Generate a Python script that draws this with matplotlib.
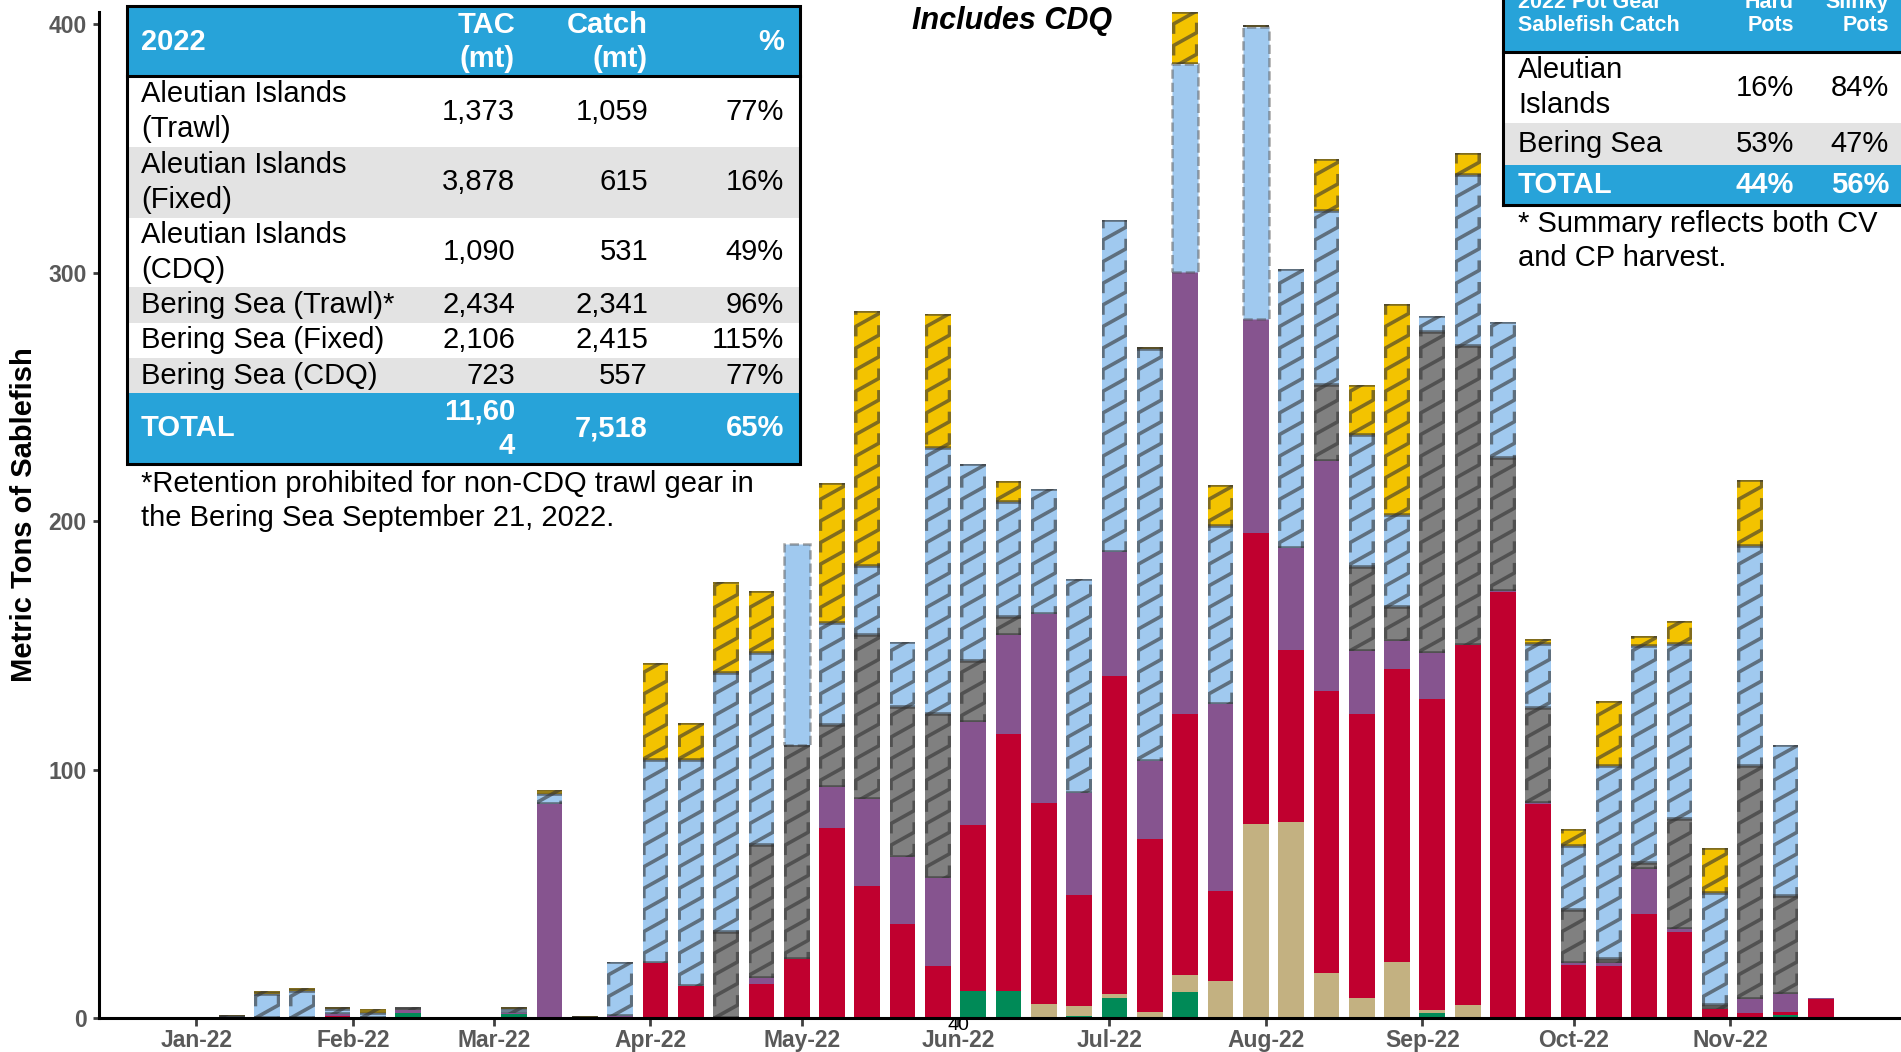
import matplotlib
matplotlib.use('Agg')
import matplotlib.pyplot as plt
import matplotlib.dates as mdates
from matplotlib.collections import LineCollection
from matplotlib.patches import Rectangle
import numpy as np
import pandas as pd

plt.rcParams['font.family'] = 'Liberation Sans'

W, H = 1901, 1052

weeks = pd.date_range('2022-01-01', periods=47, freq='7D')
months = pd.date_range('2022-01-01', '2022-11-01', freq='MS')

# weekly sablefish catch (mt), one list per stacked component, bottom to top
#          Jan 1 ......................................... Mar 26
green = [0, 0, 0, 0, 0, 0, 2.0, 0, 0, 1.6, 0, 0, 0,
         #  Apr 2 ........................................ Jun 25
         0, 0, 0, 0, 0, 0, 0, 0, 0, 10.7, 10.7, 0, 0.8,
         #  Jul 2 ........................................ Sep 24
         7.9, 0, 10.6, 0, 0, 0, 0, 0, 0, 1.9, 0, 0, 0,
         #  Oct 1 ................................ Nov 19
         0, 0, 0, 0, 0, 0.4, 1.1, 0.6]
tan = [0, 0, 0, 0, 0, 0, 0, 0, 0, 0, 0, 0, 0,
       0, 0, 0, 0, 0, 0, 0, 0, 0, 0, 0, 5.6, 4.0,
       1.6, 2.6, 6.6, 14.8, 78.3, 78.8, 18.0, 8.2, 22.5, 1.5, 5.3, 0.5, 0,
       0, 0, 0, 0, 0, 0, 0, 0]
red = [0, 0, 0, 0, 1.0, 0, 0, 0, 0, 0, 0, 0, 0,
       22.3, 12.8, 0, 13.8, 23.7, 76.3, 53.2, 38.0, 21.0, 67.0, 103.7, 81.0, 44.9,
       128.3, 69.6, 105.3, 36.2, 116.9, 69.3, 113.7, 114.3, 118.0, 124.9, 145.0, 170.9, 86.0,
       21.3, 20.9, 41.8, 34.8, 3.8, 1.7, 1.2, 7.1]
purple = [0, 0, 0, 0, 0.8, 0, 1.2, 0, 0, 0.3, 86.0, 0, 0.8,
          0, 0, 0, 2.5, 0, 16.5, 34.8, 27.0, 35.3, 41.3, 39.6, 76.1, 41.0,
          50.0, 31.2, 178.0, 75.5, 86.3, 41.1, 92.6, 25.1, 11.4, 18.8, 0, 0.6, 0.5,
          0.7, 1.1, 18.2, 1.0, 0, 5.6, 7.5, 0.4]
gray_pot = [0, 0.3, 0, 0, 0, 0, 1.1, 0.3, 0.3, 0, 0, 0.6, 0,
            0, 0, 34.6, 53.2, 86.3, 25.2, 66.0, 60.4, 66.0, 24.7, 7.4, 0, 0,
            0, 0, 0, 0, 0, 0, 30.5, 33.9, 13.4, 128.9, 120.4, 53.3, 38.5,
            21.3, 1.7, 2.5, 44.4, 1.5, 93.6, 39.5, 0]
blue_plain = [0, 0, 0, 0, 0, 0, 0, 0, 0, 0, 0, 0, 0,
              0, 0, 0, 0, 81.0, 0, 0, 0, 0, 0, 0, 0, 0,
              0, 0, 83.4, 0, 117.5, 0, 0, 0, 0, 0, 0, 0, 0,
              0, 0, 0, 0, 0, 0, 0, 0]
blue_pot = [0.6, 0.5, 9.5, 10.8, 2.0, 2.0, 0, 0, 0, 1.9, 4.2, 0, 21.6,
            81.7, 91.2, 104.2, 77.3, 0, 41.0, 28.0, 26.1, 107.2, 79.3, 46.2, 50.3, 86.0,
            133.6, 165.9, 0, 71.4, 0, 112.4, 70.1, 53.4, 37.3, 6.5, 68.5, 54.8, 25.4,
            26.0, 77.9, 87.1, 70.2, 45.1, 88.8, 60.6, 0]
yellow_pot = [0, 0.5, 1.3, 1.2, 0.5, 1.7, 0, 0, 0, 0.5, 1.5, 0.3, 0,
              39.0, 14.6, 36.9, 25.2, 0, 56.5, 102.5, 0, 54.0, 0, 8.4, 0, 0,
              0, 0.7, 20.9, 16.7, 0.7, 0, 21.1, 19.9, 84.7, 0, 9.0, 0, 2.1,
              6.7, 26.0, 4.2, 9.6, 18.1, 26.5, 0, 0]

# catch vs TAC summary
tbl_rows = ['Aleutian Islands\n(Trawl)', 'Aleutian Islands\n(Fixed)', 'Aleutian Islands\n(CDQ)',
            'Bering Sea (Trawl)*', 'Bering Sea (Fixed)', 'Bering Sea (CDQ)']
tbl_tac = ['1,373', '3,878', '1,090', '2,434', '2,106', '723']
tbl_catch = ['1,059', '615', '531', '2,341', '2,415', '557']
tbl_pct = ['77%', '16%', '49%', '96%', '115%', '77%']
tbl_total = ['TOTAL', '11,60\n4', '7,518', '65%']

# pot gear split
pot_rows = ['Aleutian\nIslands', 'Bering Sea']
pot_hard = ['16%', '53%']
pot_slinky = ['84%', '47%']
pot_total = ['TOTAL', '44%', '56%']

TBL_BLUE = '#27a3d9'
TBL_SHADE = '#e3e3e3'
STRIPE = (0.2, 0.2, 0.2, 0.6)


def add_stripes(ax, bars, period=8.7, rise=5.2, tail=4.0, inset=0.25):
    """ Diagonal pot-gear stripes, clipped to each bar segment """
    for rect in bars:
        h = rect.get_height()
        if h <= 0:
            continue
        x0, y0, w = rect.get_x(), rect.get_y(), rect.get_width()
        x1 = x0 + w
        segs = [[(x0, y0), (x1, y0)], [(x0, y0 + h), (x1, y0 + h)]]
        k0 = int(np.floor((y0 - rise - tail) / period))
        k1 = int(np.ceil((y0 + h + tail) / period))
        for k in range(k0, k1 + 1):
            yk = k * period
            segs.append([(x0 + inset, yk - tail), (x0 + inset, yk),
                         (x1 - inset, yk + rise), (x1 - inset, yk + rise + tail)])
        lc = LineCollection(segs, colors=[STRIPE], linewidths=2.6, zorder=3)
        ax.add_collection(lc, autolim=False)
        lc.set_clip_path(rect)


fig = plt.figure(figsize=(W / 100, H / 100), dpi=100)
ax = fig.add_axes([99 / W, 34 / H, 1 - 99 / W, (1018 - 12) / H])

layers = [
    (green, '#008a57', 'solid'),
    (tan, '#c3b181', 'solid'),
    (red, '#c0002f', 'solid'),
    (purple, '#86548f', 'solid'),
    (gray_pot, '#808080', 'stripe'),
    (blue_plain, '#a0c9ef', 'dashed'),
    (blue_pot, '#a0c9ef', 'stripe'),
    (yellow_pot, '#f3c300', 'stripe'),
]

bottom = np.zeros(len(weeks))
for vals, color, style in layers:
    vals = np.asarray(vals, dtype=float)
    if style == 'dashed':
        bars = ax.bar(weeks, vals, width=5.1, bottom=bottom, color=color,
                      edgecolor=(0.3, 0.3, 0.3, 0.5), linestyle='--', linewidth=1.8, zorder=2)
        for rect, v in zip(bars, vals):
            if v <= 0:
                rect.set_visible(False)
    else:
        bars = ax.bar(weeks, vals, width=5.1, bottom=bottom, color=color,
                      linewidth=0, zorder=2)
        if style == 'stripe':
            add_stripes(ax, bars)
    bottom += vals

day0 = mdates.date2num(pd.Timestamp('2022-01-01'))
ax.set_xlim(day0 - 19.3, day0 + 337.9)
ax.set_ylim(0, 405)

ax.set_xticks(months)
ax.xaxis.set_major_formatter(mdates.DateFormatter('%b-%y'))
ax.set_yticks([0, 100, 200, 300, 400])
ax.tick_params(axis='x', length=6, width=2, color='#404040', pad=2,
               labelsize=16.5, labelcolor='#595959')
ax.tick_params(axis='y', length=4, width=2, color='#404040', pad=5,
               labelsize=16.5, labelcolor='#595959')
for lbl in ax.get_xticklabels() + ax.get_yticklabels():
    lbl.set_fontweight('bold')

for side in ['top', 'right']:
    ax.spines[side].set_visible(False)
for side in ['left', 'bottom']:
    ax.spines[side].set_linewidth(2.2)
    ax.spines[side].set_zorder(4)

ax.set_ylabel('Metric Tons of Sablefish', fontsize=21, fontweight='bold')
ax.yaxis.set_label_coords((38 - 99) / (W - 99), 0.5)

# overlay in pixel coordinates for the summary tables and notes
ov = fig.add_axes([0, 0, 1, 1], zorder=5)
ov.set_xlim(0, W)
ov.set_ylim(H, 0)
ov.axis('off')

#---------------
#  Left table
#---------------
tx0, tx1 = 127, 800
edges = [6, 76, 147, 218, 287, 322.5, 358, 393, 464]
fills = [TBL_BLUE, 'white', TBL_SHADE, 'white', TBL_SHADE, 'white', TBL_SHADE, TBL_BLUE]
for top, bot, fc in zip(edges[:-1], edges[1:], fills):
    ov.add_patch(Rectangle((tx0, top), tx1 - tx0, bot - top, facecolor=fc, edgecolor='none'))
ov.add_patch(Rectangle((tx0, edges[0]), tx1 - tx0, edges[-1] - edges[0],
                       fill=False, edgecolor='black', linewidth=2.2))
ov.plot([tx0, tx1], [edges[1], edges[1]], color='black', linewidth=2.2)

col_x = [141, 515, 648, 784]
col_ha = ['left', 'right', 'right', 'right']
header = ['2022', 'TAC\n(mt)', 'Catch\n(mt)', '%']
for x, ha, txt in zip(col_x, col_ha, header):
    ov.text(x, 42, txt, ha=ha, va='center', fontsize=21, fontweight='bold',
            color='white', linespacing=1.3)

for i, cells in enumerate(zip(tbl_rows, tbl_tac, tbl_catch, tbl_pct)):
    yc = (edges[i + 1] + edges[i + 2]) / 2
    for x, ha, txt in zip(col_x, col_ha, cells):
        ov.text(x, yc, txt, ha=ha, va='center', fontsize=21, color='black', linespacing=1.3)

yc = (edges[-2] + edges[-1]) / 2
for x, ha, txt in zip(col_x, col_ha, tbl_total):
    ov.text(x, yc, txt, ha=ha, va='center', fontsize=21, fontweight='bold',
            color='white', linespacing=1.3)

ov.text(141, 501, '*Retention prohibited for non-CDQ trawl gear in\nthe Bering Sea September 21, 2022.',
        ha='left', va='center', fontsize=21, linespacing=1.3)

#---------------
#  Right table
#---------------
rx0, rx1 = 1503, 1910
redges = [-40, 52, 123, 165, 205]
rfills = [TBL_BLUE, 'white', TBL_SHADE, TBL_BLUE]
for top, bot, fc in zip(redges[:-1], redges[1:], rfills):
    ov.add_patch(Rectangle((rx0, top), rx1 - rx0, bot - top, facecolor=fc, edgecolor='none'))
ov.plot([rx0, rx0], [redges[0], redges[-1]], color='black', linewidth=2.2)
ov.plot([rx0, rx1], [redges[1], redges[1]], color='black', linewidth=2.2)
ov.plot([rx0, rx1], [redges[-1], redges[-1]], color='black', linewidth=2.2)

pcol_x = [1518, 1794, 1889]
pcol_ha = ['left', 'right', 'right']
pot_header = ['2022 Pot Gear\nSablefish Catch', 'Hard\nPots', 'Slinky\nPots']
for x, ha, txt in zip(pcol_x, pcol_ha, pot_header):
    ov.text(x, 14, txt, ha=ha, va='center', fontsize=15.5, fontweight='bold',
            color='white', linespacing=1.1)
for i, cells in enumerate(zip(pot_rows, pot_hard, pot_slinky)):
    yc = (redges[i + 1] + redges[i + 2]) / 2
    for x, ha, txt in zip(pcol_x, pcol_ha, cells):
        ov.text(x, yc, txt, ha=ha, va='center', fontsize=21, color='black', linespacing=1.3)
yc = (redges[-2] + redges[-1]) / 2
for x, ha, txt in zip(pcol_x, pcol_ha, pot_total):
    ov.text(x, yc, txt, ha=ha, va='center', fontsize=21, fontweight='bold', color='white')

ov.text(1518, 241, '* Summary reflects both CV\nand CP harvest.', ha='left', va='center',
        fontsize=21, linespacing=1.3)

ov.text(1012, 21, 'Includes CDQ', ha='center', va='center', fontsize=22,
        fontweight='bold', fontstyle='italic')
ov.text(958, 1025, '40', ha='center', va='center', fontsize=14)

fig.savefig('out.png', dpi=100)
